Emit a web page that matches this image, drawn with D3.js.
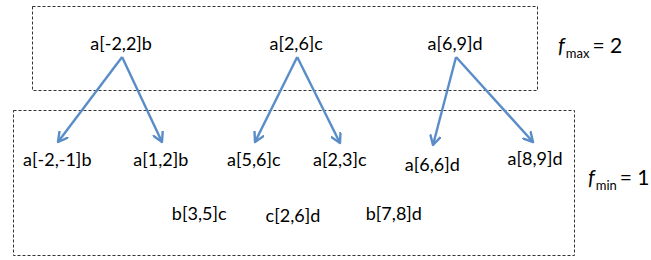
<!DOCTYPE html>
<html>
<head>
<meta charset="utf-8">
<script src="https://cdn.jsdelivr.net/npm/d3@7"></script>
<style>
  body { margin: 0; background: #fff; }
  text { font-family: Lato, "Open Sans", sans-serif; fill: #000; }
</style>
</head>
<body>
<div id="chart"></div>
<script>
'use strict';

// node labels per level
var topLabels = ['a[-2,2]b', 'a[2,6]c', 'a[6,9]d'];
var leafLabels = ['a[-2,-1]b', 'a[1,2]b', 'a[5,6]c', 'a[2,3]c', 'a[6,6]d', 'a[8,9]d'];
var extraLabels = ['b[3,5]c', 'c[2,6]d', 'b[7,8]d'];
// edges: [top index, leaf index]
var edges = [[0, 0], [0, 1], [1, 2], [1, 3], [2, 4], [2, 5]];
// level labels
var levelNames = ['max', 'min'];
var levelValues = [2, 1];

var width = 651, height = 260;

// layout (pixel positions along the row)
var x = d3.scaleLinear().domain([0, 100]).range([0, 651]);
var topX = [18.6, 45.5, 69.9];
var leafX = [8.8, 24.7, 39.0, 52.2, 66.4, 82.2];
var leafDy = [0, 0, 0, 0, 5, -1];
var extraX = [30.6, 45.0, 60.5];
var extraDy = [0, 2, 0];

var svg = d3.select('#chart').append('svg')
  .attr('width', width)
  .attr('height', height);

var defs = svg.append('defs');
defs.append('marker')
  .attr('id', 'arrow')
  .attr('viewBox', '0 0 12 12')
  .attr('refX', 10).attr('refY', 6)
  .attr('markerWidth', 12).attr('markerHeight', 12)
  .attr('markerUnits', 'userSpaceOnUse')
  .attr('orient', 'auto')
  .append('path')
    .attr('d', 'M1,1 L10,6 L1,11')
    .style('fill', 'none')
    .style('stroke', '#5a8dc8')
    .style('stroke-width', 2.4)
    .style('stroke-linecap', 'round')
    .style('stroke-linejoin', 'round');

// dashed boxes
var boxes = [
  {x: 32.5, y: 6.5, w: 505, h: 84},
  {x: 13.5, y: 110.5, w: 561, h: 145}
];
svg.selectAll('rect.box').data(boxes)
  .enter().append('rect')
    .attr('class', 'box')
    .attr('x', function(d) { return d.x; })
    .attr('y', function(d) { return d.y; })
    .attr('width', function(d) { return d.w; })
    .attr('height', function(d) { return d.h; })
    .style('fill', 'none')
    .style('stroke', '#333')
    .style('stroke-width', 1)
    .style('stroke-dasharray', '3,2');

var apexY = 57;
var leafTip = [[58, 142], [162, 142], [255, 142], [340, 143], [433, 145], [533, 142]];

svg.selectAll('line.edge').data(edges)
  .enter().append('line')
    .attr('class', 'edge')
    .attr('x1', function(d) { return x(topX[d[0]]) + 1; })
    .attr('y1', apexY)
    .attr('x2', function(d) { return leafTip[d[1]][0]; })
    .attr('y2', function(d) { return leafTip[d[1]][1]; })
    .style('stroke', '#5a8dc8')
    .style('stroke-width', 2.4)
    .attr('marker-end', 'url(#arrow)');

function labels(cls, data, xs, y, dys) {
  svg.selectAll('text.' + cls).data(data)
    .enter().append('text')
      .attr('class', cls)
      .attr('x', function(d, i) { return x(xs[i]); })
      .attr('y', function(d, i) { return y + (dys ? dys[i] : 0); })
      .attr('text-anchor', 'middle')
      .style('font-size', '18px')
      .text(function(d) { return d; });
}

labels('top', topLabels, topX, 50);
labels('leaf', leafLabels, leafX, 166, leafDy);
labels('extra', extraLabels, extraX, 220, extraDy);

// f_max / f_min
var levelPos = [[558, 53], [588, 185]];
var lv = svg.selectAll('text.level').data(levelNames)
  .enter().append('text')
    .attr('class', 'level')
    .attr('x', function(d, i) { return levelPos[i][0]; })
    .attr('y', function(d, i) { return levelPos[i][1]; })
    .style('font-size', '21px');
lv.append('tspan')
  .style('font-style', 'italic')
  .text('f');
lv.append('tspan')
  .attr('dx', 1)
  .attr('dy', 5)
  .style('font-size', '13px')
  .text(function(d) { return d; });
lv.append('tspan')
  .attr('dx', 3)
  .attr('dy', -5)
  .text(function(d, i) { return '= ' + levelValues[i]; });
</script>
</body>
</html>
